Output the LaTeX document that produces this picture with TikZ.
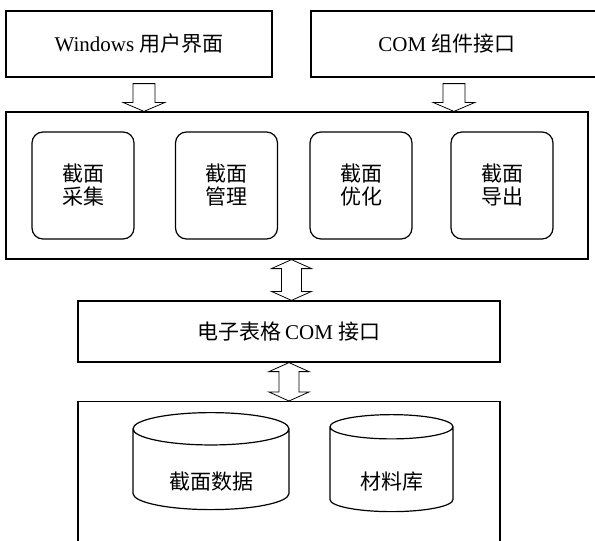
\documentclass[tikz,border=0pt]{standalone}
\usepackage{fontspec}
\setmainfont{Liberation Serif}
\newfontfamily\cjk{Noto Sans CJK SC}
\usetikzlibrary{shapes.geometric,calc}

\newcommand{\zh}[1]{{\cjk #1}}
% label sitting low in the body of a cylinder
\newcommand{\lowlabel}[1]{\raisebox{-20pt}[0pt][0pt]{#1}}

% hollow block arrow pointing down, tail at #1, tip level at #2
\newcommand{\hollowdown}[2]{%
  \draw[hollow] let \p1=(#1), \p2=(#2) in
    (\x1-11pt,\y1) -- (\x1+11pt,\y1) -- (\x1+11pt,\y2+9pt) -- (\x1+21pt,\y2+9pt)
    -- (\x1,\y2) -- (\x1-21pt,\y2+9pt) -- (\x1-11pt,\y2+9pt) -- cycle;}
% hollow double-headed block arrow between #1 (top) and #2 (bottom)
\newcommand{\hollowboth}[2]{%
  \draw[hollow] let \p1=(#1), \p2=(#2) in
    (\x1,\y1) -- (\x1+20pt,\y1-9pt) -- (\x1+10pt,\y1-9pt) -- (\x1+10pt,\y2+9pt)
    -- (\x1+20pt,\y2+9pt) -- (\x1,\y2) -- (\x1-20pt,\y2+9pt) -- (\x1-10pt,\y2+9pt)
    -- (\x1-10pt,\y1-9pt) -- (\x1-20pt,\y1-9pt) -- cycle;}

\begin{document}
\begin{tikzpicture}[x=1pt, y=-1pt,
    box/.style={draw, line width=1.2pt, inner sep=0pt, font=\fontsize{21}{24}\selectfont},
    module/.style={box, rounded corners=11pt, minimum width=102pt, minimum height=107pt,
      align=center, font=\cjk\fontsize{21}{23}\selectfont},
    store/.style={cylinder, draw, line width=1.2pt, shape border rotate=90, aspect=0.385,
      inner sep=0pt, minimum height=97pt, font=\cjk\fontsize{21}{24}\selectfont},
    hollow/.style={draw, line width=0.8pt}]
  \useasboundingbox (0,0) rectangle (595,541);

  % top layer: the two entry points
  \node[box, minimum width=266pt, minimum height=66pt] (win) at (139,44) {Windows \zh{用户界面}};
  \node[box, minimum width=290pt, minimum height=66pt] (comif) at (456,44) {COM \zh{组件接口}\hspace*{18pt}\mbox{}};

  % core layer with its four modules
  \node[box, minimum width=582pt, minimum height=147pt] (core) at (297,185.5) {};
  \node[module] (collect) at (83,185.5) {截面\\采集};
  \node[module] (manage) at (226.5,185.5) {截面\\管理};
  \node[module] (optimize) at (361,185.5) {截面\\优化};
  \node[module] (export) at (502,185.5) {截面\\导出};

  % spreadsheet interface
  \node[box, minimum width=422pt, minimum height=61pt] (excom) at (289,331.5) {\zh{电子表格}\,COM \zh{接口}};

  % data layer
  \node[box, minimum width=422pt, minimum height=170pt, anchor=north] (base) at (289,401) {};
  \node[store, minimum width=156pt] (sect) at (211,469.5) {\lowlabel{截面数据}};
  \node[store, minimum width=123pt] (mat) at (391.5,469.5) {\lowlabel{材料库}};

  % arrows between the layers
  \coordinate (winout) at ($(win.south)+(5,6)$);
  \coordinate (comout) at ($(comif.south)+(-2,6)$);
  \coordinate (corelink) at ($(core.south)+(-5.5,0)$);
  \hollowdown{winout}{winout |- core.north}
  \hollowdown{comout}{comout |- core.north}
  \hollowboth{corelink}{corelink |- excom.north}
  \hollowboth{excom.south}{base.north}
\end{tikzpicture}
\end{document}
